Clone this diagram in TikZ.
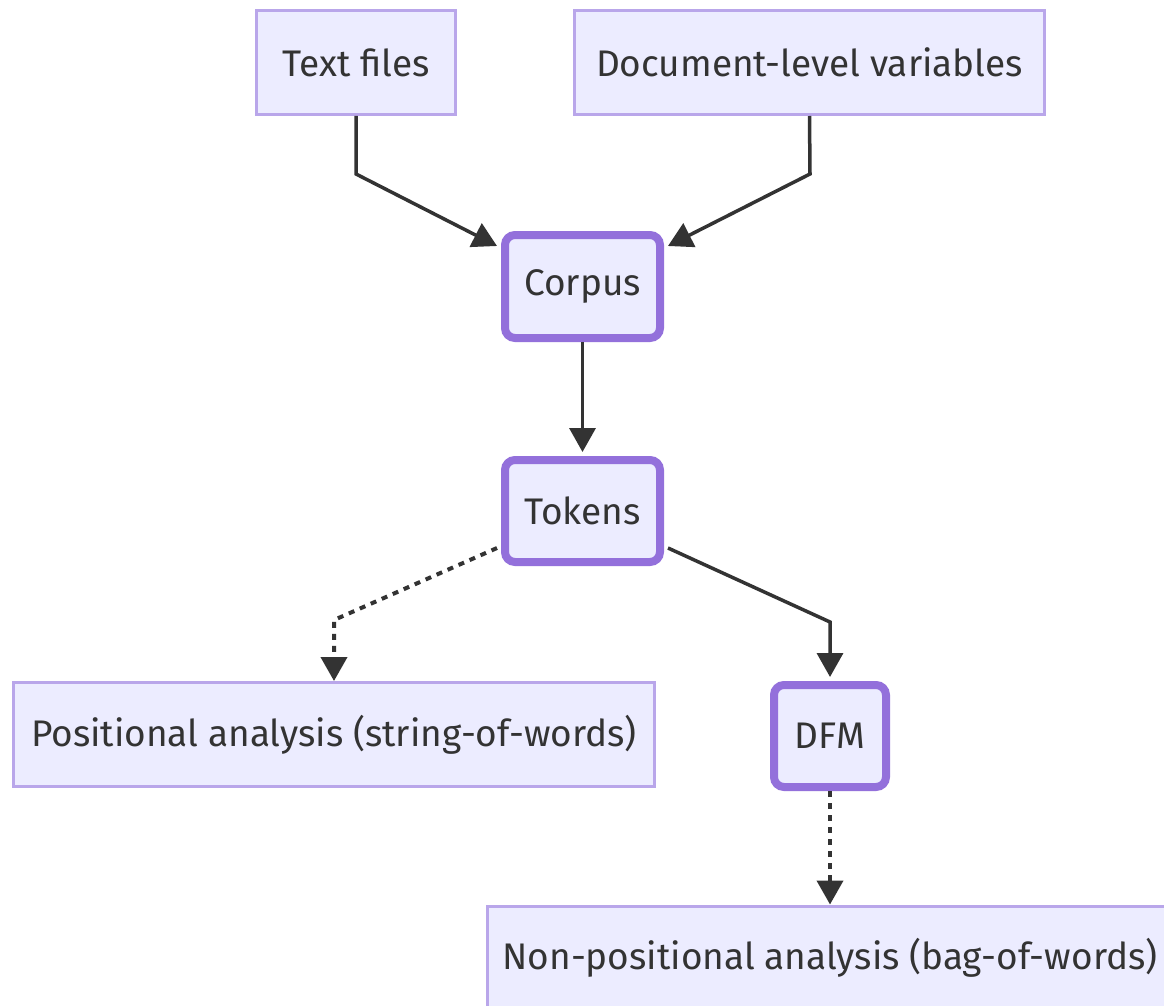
\documentclass[tikz,border=0pt]{standalone}
\usepackage{fontspec}
\setmainfont{Fira Sans}
\usetikzlibrary{arrows.meta}
\definecolor{boxfill}{HTML}{ECECFF}
\definecolor{thinline}{HTML}{B9A6EA}
\definecolor{thickline}{HTML}{9370DB}
\definecolor{edgecol}{HTML}{333333}
\tikzset{
  thinbox/.style={draw=thinline, line width=3pt, fill=boxfill, inner sep=0pt,
    font=\fontsize{37}{42}\selectfont, text=edgecol},
  thickbox/.style={draw=thickline, line width=8pt, fill=boxfill, inner sep=0pt,
    rounded corners=10pt, font=\fontsize{37}{42}\selectfont, text=edgecol},
  arr/.style={draw=edgecol, line width=3.5pt,
    -{Triangle[length=24pt,width=26pt]}},
  dotarr/.style={arr, line width=4pt, dash pattern=on 6pt off 6pt},
}
\begin{document}
\begin{tikzpicture}[x=1pt,y=-1pt]
\useasboundingbox (0,0) rectangle (1164,1006);
\clip (0,0) rectangle (1164,1006);
\fill[white] (0,0) rectangle (1164,1006);

\node[thinbox, minimum width=199pt, minimum height=104pt] (tf) at (356,62.5) {Text files};
\node[thinbox, minimum width=470pt, minimum height=104pt] (dv) at (809.5,62.5) {Document-level variables};
\node[thickbox, minimum width=155pt, minimum height=103pt] (corpus) at (582.5,286.5) {Corpus};
\node[thickbox, minimum width=155pt, minimum height=102pt] (tok) at (582.5,511) {Tokens};
\node[thinbox, minimum width=641pt, minimum height=104pt] (pos) at (334,734.5) {Positional analysis (string-of-words)};
\node[thickbox, minimum width=112pt, minimum height=102pt] (dfm) at (830,736) {DFM};
\node[thinbox, minimum width=686pt, minimum height=104pt] (npos) at (830,958) {Non-positional analysis (bag-of-words)};

\coordinate (b1) at (356,174);
\coordinate (b2) at (810,174);
\coordinate (b3) at (334,620);
\coordinate (b4) at (830,622);

\draw[arr] (tf.south) -- (b1) -- ([xshift=-4pt,yshift=-15pt]corpus.north west);
\draw[arr] (dv.south) -- (b2) -- ([xshift=4pt,yshift=-15pt]corpus.north east);
\draw[arr] (corpus.south) -- ([yshift=4pt]tok.north);
\draw[dotarr] ([xshift=-4pt,yshift=18pt]tok.south west) -- (b3) -- (pos.north);
\draw[arr] ([xshift=4pt,yshift=18pt]tok.south east) -- (b4) -- ([yshift=4pt]dfm.north);
\draw[dotarr] (dfm.south) -- (npos.north);
\end{tikzpicture}
\end{document}
